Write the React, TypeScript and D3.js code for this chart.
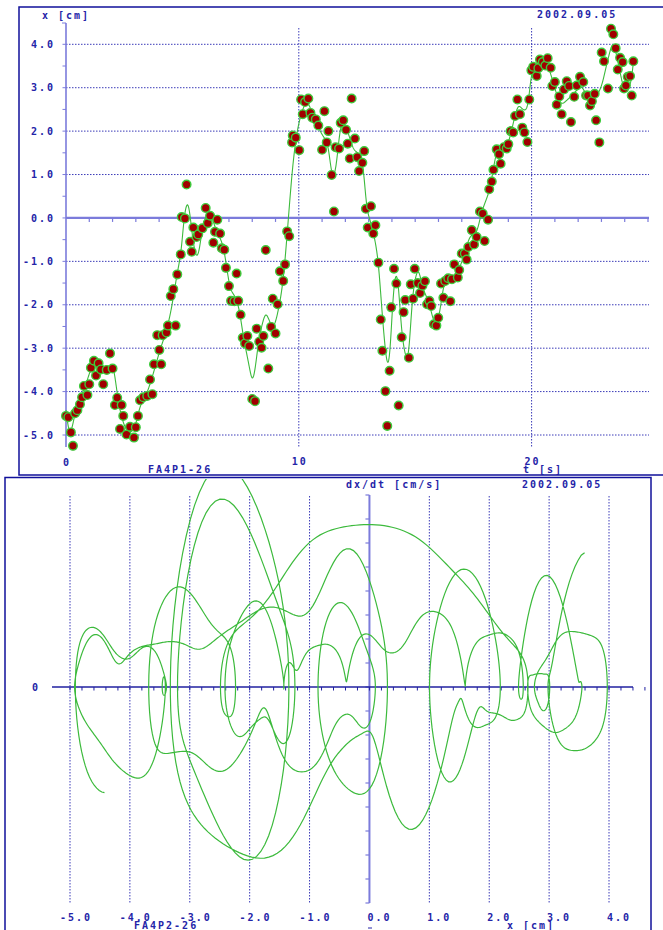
import React from "react";
import * as d3 from "d3";

// Measured positions x [cm] at sample times t [s]
const sampleTime = [
  0.0, 0.1, 0.21, 0.3, 0.39, 0.49, 0.6, 0.69, 0.77, 0.92, 1.0, 1.07, 1.2, 1.29, 1.4, 1.5, 1.6, 1.75, 1.89, 2.0,
  2.1, 2.2, 2.32, 2.39, 2.46, 2.6, 2.75, 2.92, 3.0, 3.09, 3.18, 3.32, 3.49, 3.61, 3.71, 3.78, 3.92, 4.01, 4.09, 4.15,
  4.32, 4.38, 4.5, 4.61, 4.71, 4.78, 4.93, 4.97, 5.11, 5.18, 5.33, 5.4, 5.47, 5.61, 5.68, 5.86, 6.0, 6.09, 6.19, 6.33,
  6.4, 6.5, 6.62, 6.69, 6.8, 6.87, 7.0, 7.09, 7.23, 7.33, 7.4, 7.5, 7.59, 7.69, 7.79, 7.87, 8.0, 8.12, 8.19, 8.3,
  8.4, 8.48, 8.58, 8.69, 8.81, 8.88, 9.0, 9.09, 9.19, 9.33, 9.41, 9.5, 9.59, 9.71, 9.74, 9.87, 10.02, 10.1, 10.17, 10.27,
  10.41, 10.5, 10.58, 10.73, 10.84, 11.0, 11.1, 11.2, 11.27, 11.41, 11.51, 11.58, 11.73, 11.8, 11.91, 12.03, 12.1, 12.19, 12.27, 12.41,
  12.51, 12.59, 12.73, 12.81, 12.88, 12.96, 13.1, 13.2, 13.29, 13.42, 13.52, 13.59, 13.72, 13.8, 13.9, 13.97, 14.09, 14.19, 14.29, 14.42,
  14.5, 14.57, 14.73, 14.81, 14.91, 14.98, 15.11, 15.21, 15.31, 15.42, 15.51, 15.61, 15.69, 15.8, 15.91, 15.99, 16.11, 16.21, 16.29, 16.42,
  16.51, 16.58, 16.68, 16.83, 16.89, 17.0, 17.13, 17.21, 17.28, 17.43, 17.53, 17.64, 17.78, 17.9, 17.98, 18.13, 18.18, 18.29, 18.36, 18.5,
  18.6, 18.67, 18.81, 18.93, 19.0, 19.1, 19.21, 19.29, 19.39, 19.5, 19.6, 19.69, 19.82, 19.9, 19.99, 20.07, 20.22, 20.29, 20.36, 20.48,
  20.59, 20.69, 20.82, 20.89, 21.0, 21.08, 21.19, 21.29, 21.39, 21.51, 21.61, 21.69, 21.83, 21.94, 22.08, 22.22, 22.34, 22.42, 22.51, 22.59,
  22.71, 22.77, 22.91, 23.01, 23.11, 23.28, 23.41, 23.51, 23.61, 23.7, 23.8, 23.91, 23.97, 24.05, 24.13, 24.23, 24.3, 24.37,
];
const samplePos = [
  -4.56, -4.59, -4.94, -5.25, -4.5, -4.43, -4.29, -4.13, -3.87, -4.08, -3.83, -3.45, -3.29, -3.63, -3.35, -3.49, -3.83, -3.5, -3.12, -3.47,
  -4.31, -4.14, -4.86, -4.31, -4.56, -4.99, -4.81, -5.06, -4.82, -4.56, -4.2, -4.13, -4.1, -3.72, -4.06, -3.37, -2.7, -3.04, -3.37, -2.7,
  -2.64, -2.48, -1.8, -1.64, -2.48, -1.3, -0.84, 0.02, -0.01, 0.77, -0.55, -0.78, -0.22, -0.44, -0.38, -0.24, 0.23, -0.12, 0.05, -0.57,
  -0.32, -0.04, -0.36, -0.7, -0.73, -1.15, -1.57, -1.91, -1.92, -1.28, -1.91, -2.23, -2.76, -2.89, -2.72, -2.95, -4.17, -4.22, -2.55, -2.85,
  -2.99, -2.72, -0.74, -3.47, -2.51, -1.86, -2.66, -1.99, -1.23, -1.45, -1.07, -0.31, -0.42, 1.74, 1.9, 1.85, 1.56, 2.73, 2.39, 2.67,
  2.75, 2.42, 2.31, 2.27, 2.13, 1.57, 2.46, 1.74, 2.0, 0.99, 0.15, 1.63, 1.6, 2.19, 2.25, 2.03, 1.71, 1.37, 2.75, 1.83,
  1.4, 1.08, 1.27, 1.54, 0.21, -0.22, 0.27, -0.36, -0.17, -1.03, -2.34, -3.06, -3.99, -4.79, -3.52, -2.06, -1.17, -1.51, -4.32, -2.75,
  -2.17, -1.89, -3.22, -1.53, -1.86, -1.17, -1.5, -1.73, -1.56, -1.46, -1.99, -1.91, -2.03, -2.45, -2.48, -2.3, -1.51, -1.84, -1.45, -1.39,
  -1.92, -1.41, -1.07, -1.37, -1.2, -0.82, -0.82, -0.96, -0.67, -0.28, -0.61, -0.44, 0.15, 0.1, -0.53, -0.04, 0.66, 0.84, 1.11, 1.58,
  1.47, 1.25, 1.63, 1.6, 1.7, 2.0, 1.97, 2.35, 2.73, 2.39, 2.08, 1.97, 1.75, 2.73, 3.4, 3.48, 3.27, 3.45, 3.65, 3.59,
  3.51, 3.68, 3.46, 3.04, 3.13, 2.61, 2.8, 2.39, 2.96, 3.15, 3.04, 2.21, 2.79, 3.05, 3.25, 3.13, 2.82, 2.82, 2.59, 2.69,
  2.86, 2.25, 1.74, 3.81, 3.61, 2.98, 4.36, 4.23, 3.91, 3.42, 3.69, 3.59, 2.98, 3.05, 3.25, 3.27, 2.82, 3.61,
];

// Knots of the smoothed trajectory x(t)
const fitTime = [
  0.0, 0.1, 0.2, 0.46, 0.82, 1.1, 1.46, 1.75, 2.03, 2.18, 2.32, 2.53, 2.75, 2.96, 3.18, 3.47, 3.75, 4.04, 4.32, 4.54, 4.75,
  4.97, 5.07, 5.25, 5.4, 5.54, 5.68, 5.9, 6.19, 6.4, 6.76, 6.9, 7.04, 7.33, 7.47, 7.62, 7.76, 7.9, 8.0, 8.12, 8.26,
  8.4, 8.58, 8.72, 8.91, 9.12, 9.33, 9.48, 9.62, 9.74, 9.91, 10.12, 10.34, 10.48, 10.7, 10.98, 11.27, 11.41, 11.58, 11.77, 11.91,
  12.13, 12.34, 12.56, 12.73, 12.81, 12.91, 13.06, 13.27, 13.42, 13.56, 13.7, 13.82, 13.92, 14.02, 14.13, 14.25, 14.39, 14.53, 14.71,
  14.85, 14.96, 15.14, 15.31, 15.49, 15.64, 15.78, 15.92, 16.07, 16.21, 16.35, 16.57, 16.71, 16.92, 17.07, 17.35, 17.64, 17.86, 18.21, 18.36,
  18.5, 18.72, 18.93, 19.14, 19.29, 19.43, 19.53, 19.72, 19.86, 19.96, 20.07, 20.29, 20.5, 20.68, 20.86, 21.0, 21.15, 21.29, 21.51, 21.72,
  21.94, 22.15, 22.37, 22.58, 22.79, 23.01, 23.15, 23.32, 23.48, 23.62, 23.8, 23.94, 24.08, 24.3, 24.37,
];
const fitPos = [
  -4.42, -4.86, -4.95, -4.35, -3.89, -3.46, -3.39, -3.47, -3.43, -3.97, -4.43, -4.81, -4.93, -4.81, -4.35, -4.04, -3.58, -3.04, -2.58, -2.05, -1.36,
  -0.67, 0.02, 0.35, -0.28, -0.8, -0.86, -0.13, 0.11, -0.21, -0.67, -1.13, -1.59, -1.89, -2.2, -2.74, -3.12, -3.5, -3.76, -3.5, -2.89,
  -2.51, -2.2, -2.35, -2.51, -2.12, -1.42, -0.5, 0.45, 1.2, 1.93, 2.42, 2.67, 2.55, 2.25, 1.94, 1.63, 1.02, 1.1, 2.02, 2.21,
  1.94, 1.6, 1.48, 1.29, 0.94, 0.25, -0.05, -0.51, -1.05, -2.05, -2.95, -3.43, -3.12, -2.05, -1.36, -1.36, -2.43, -3.04, -3.2,
  -2.05, -1.51, -1.2, -1.59, -1.82, -2.05, -2.35, -2.43, -2.12, -1.59, -1.43, -1.43, -1.28, -1.13, -0.9, -0.44, -0.32, 0.14, 0.68, 1.14,
  1.52, 1.6, 1.63, 2.02, 2.36, 2.59, 2.55, 2.48, 2.63, 3.21, 3.44, 3.51, 3.55, 3.51, 3.25, 2.98, 2.75, 2.63, 2.71, 2.82,
  2.94, 3.02, 2.82, 2.75, 2.82, 3.05, 3.36, 3.74, 4.01, 3.82, 3.36, 3.02, 2.98, 3.17, 3.59,
];

const timeLabels = [0, 10, 20];
const timeGrid = [10, 20];
const posLabels = [4, 3, 2, 1, 0, -1, -2, -3, -4, -5];
const phaseGrid = [-5, -4, -3, -2, -1, 1, 2, 3, 4];
const phaseLabels = [-5, -4, -3, -2, -1, 0, 1, 2, 3, 4];
const dateText = "2002.09.05";

type TracePoint = { t: number; x: number; v: number };

// Cubic Hermite through the knots (Catmull-Rom tangents), evaluated at time t
function hermiteAt(ts: number[], xs: number[], m: number[], t: number): number {
  let i = d3.bisectRight(ts, t) - 1;
  i = Math.max(0, Math.min(ts.length - 2, i));
  const h = ts[i + 1] - ts[i];
  const s = (t - ts[i]) / h;
  const s2 = s * s, s3 = s2 * s;
  return (
    (2 * s3 - 3 * s2 + 1) * xs[i] + (s3 - 2 * s2 + s) * h * m[i] +
    (-2 * s3 + 3 * s2) * xs[i + 1] + (s3 - s2) * h * m[i + 1]
  );
}

// Dense trajectory: spline, light Gaussian smoothing (ends extended along their
// tangents), then dx/dt by central differences
function buildTrace(ts: number[], xs: number[], dt: number, sigma: number): TracePoint[] {
  const n = ts.length;
  const m = xs.map((_, i) => {
    if (i === 0) return (xs[1] - xs[0]) / (ts[1] - ts[0]);
    if (i === n - 1) return (xs[n - 1] - xs[n - 2]) / (ts[n - 1] - ts[n - 2]);
    return (xs[i + 1] - xs[i - 1]) / (ts[i + 1] - ts[i - 1]);
  });
  const grid = d3.range(ts[0], ts[n - 1] + dt / 2, dt);
  const raw = grid.map((t) => hermiteAt(ts, xs, m, t));
  const N = raw.length;
  const at = (j: number) =>
    j < 0 ? raw[0] + j * dt * m[0] : j >= N ? raw[N - 1] + (j - N + 1) * dt * m[n - 1] : raw[j];
  const half = Math.ceil((3 * sigma) / dt);
  const smooth = raw.map((_, i) => {
    let sw = 0, sx = 0;
    for (let k = -half; k <= half; k++) {
      const w = Math.exp(-0.5 * ((k * dt) / sigma) ** 2);
      sw += w;
      sx += w * at(i + k);
    }
    return sx / sw;
  });
  return grid.map((t, i) => {
    const a = Math.max(0, i - 1), b = Math.min(N - 1, i + 1);
    const v = (smooth[b] - smooth[a]) / (grid[b] - grid[a]);
    return { t, x: smooth[i], v };
  });
}

const ink = "#2424a8";
const axisBlue = "#7b7bdb";
const gridBlue = "#3a3ab8";
const frameBlue = "#10109a";
const lineGreen = "#3cba3c";

const labelStyle: React.CSSProperties = {
  fontFamily: "'DejaVu Sans Mono', monospace",
  fontWeight: "bold",
  fontSize: 10,
  letterSpacing: 2,
};

export default function App() {
  const W = 663, H = 930;
  const tS = d3.scaleLinear().domain([0, 25]).range([66, 648]);
  const xS = d3.scaleLinear().domain([-5, 4]).range([435, 44.3]);
  const pX = d3.scaleLinear().domain([-5, 4]).range([70, 609]);
  const pV = d3.scaleLinear().domain([-9, 8]).range([903, 495]);

  const trace = buildTrace(fitTime, fitPos, 0.01, 0.055);
  const fitPath = d3.line<TracePoint>().x((d) => tS(d.t)).y((d) => xS(d.x))(trace) || "";
  const phasePath = d3.line<TracePoint>().x((d) => pX(d.x)).y((d) => pV(d.v))(trace) || "";

  const samples = sampleTime.map((t, i) => ({ t, x: samplePos[i] }));
  const minorPos = d3.range(-5, 4.01, 0.5);
  const secTicks = d3.range(1, 26);
  const phaseMinor = d3.range(-5, 4.61, 0.2);
  const velTicks = d3.range(-9, 8.01, 1);

  return (
    <svg width={W} height={H} style={{ position: "absolute", left: 0, top: 0, background: "#fff" }}>
      <defs>
        <clipPath id="phaseClip">
          <rect x={6} y={479} width={644} height={451} />
        </clipPath>
      </defs>
      <rect x={0} y={0} width={W} height={H} fill="#fff" />

      {/* ---------- upper panel: x(t) ---------- */}
      <rect x={19} y={7} width={700} height={468} fill="none" stroke={frameBlue} strokeWidth={1.5} />
      <g stroke={gridBlue} strokeWidth={1} strokeDasharray="1.5,1.5">
        {posLabels.filter((v) => v !== 0).map((v) => (
          <line key={"hg" + v} x1={66} x2={649} y1={xS(v)} y2={xS(v)} />
        ))}
        {timeGrid.map((t) => (
          <line key={"vg" + t} x1={tS(t)} x2={tS(t)} y1={28} y2={448} />
        ))}
      </g>
      <line x1={66} x2={66} y1={23} y2={447} stroke={axisBlue} strokeWidth={1.6} />
      <line x1={62} x2={66} y1={23} y2={23} stroke={axisBlue} strokeWidth={1} />
      {minorPos.map((v) => (
        <line key={"yt" + v} x1={62.5} x2={66} y1={xS(v)} y2={xS(v)} stroke={axisBlue} strokeWidth={1} />
      ))}
      <line x1={66} x2={649} y1={xS(0)} y2={xS(0)} stroke={axisBlue} strokeWidth={2.2} />
      {secTicks.map((t) => (
        <line key={"xt" + t} x1={tS(t)} x2={tS(t)} y1={xS(0)} y2={xS(0) + 4} stroke={axisBlue} strokeWidth={1.2} />
      ))}

      <path d={fitPath} fill="none" stroke={lineGreen} strokeWidth={1.1} />
      {samples.map((d, i) => (
        <circle key={"s" + i} cx={tS(d.t)} cy={xS(d.x)} r={4.3} fill="#a10000" stroke="#3ccc3c" strokeWidth={1.4} />
      ))}

      <g style={labelStyle} fill={ink}>
        <text x={42} y={19}>x [cm]</text>
        <text x={537} y={18}>{dateText}</text>
        {posLabels.map((v) => (
          <text key={"yl" + v} x={55} y={xS(v) + 3.6} textAnchor="end">{v.toFixed(1)}</text>
        ))}
        {timeLabels.map((t) => (
          <text key={"xl" + t} x={tS(t) + 1} y={t === 0 ? 465.5 : 465} textAnchor="middle">{String(t)}</text>
        ))}
        <text x={523} y={473}>t [s]</text>
        <text x={148} y={472.5}>FA4P1-26</text>
      </g>

      {/* ---------- lower panel: phase portrait dx/dt vs x ---------- */}
      <rect x={5} y={477.5} width={646} height={470} fill="none" stroke={frameBlue} strokeWidth={1.5} />
      <g stroke={gridBlue} strokeWidth={1} strokeDasharray="1.5,1.5">
        {phaseGrid.map((v) => (
          <line key={"pg" + v} x1={pX(v)} x2={pX(v)} y1={496} y2={903} />
        ))}
      </g>
      <line x1={pX(0)} x2={pX(0)} y1={495} y2={903} stroke={axisBlue} strokeWidth={2} />
      {velTicks.map((v) => (
        <line key={"vt" + v} x1={pX(0) - 4} x2={pX(0)} y1={pV(v)} y2={pV(v)} stroke={axisBlue} strokeWidth={1.2} />
      ))}
      <line x1={52} x2={633} y1={pV(0)} y2={pV(0)} stroke="#2020a0" strokeWidth={1.5} />
      {phaseMinor.map((v) => (
        <line key={"pt" + v.toFixed(1)} x1={pX(v)} x2={pX(v)} y1={pV(0)} y2={pV(0) + 3.5} stroke="#2020a0" strokeWidth={1} />
      ))}

      <path d={phasePath} fill="none" stroke={lineGreen} strokeWidth={1.2} clipPath="url(#phaseClip)" />

      <g style={labelStyle} fill={ink}>
        <text x={346} y={487.5}>dx/dt [cm/s]</text>
        <text x={522} y={487.5}>{dateText}</text>
        <text x={32} y={690.5}>0</text>
        {phaseLabels.map((v) => (
          <text key={"pl" + v} x={pX(v) + 22} y={920.5} textAnchor="end">{v.toFixed(1)}</text>
        ))}
        <text x={134} y={928.5}>FA4P2-26</text>
        <text x={507} y={928.5}>x [cm]</text>
      </g>
      <line x1={368} x2={372} y1={928} y2={928} stroke={ink} strokeWidth={1} />
    </svg>
  );
}
